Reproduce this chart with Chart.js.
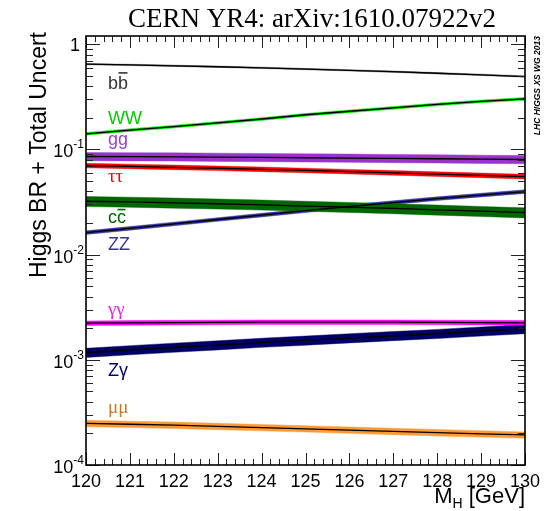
<!DOCTYPE html>
<html><head><meta charset="utf-8">
<script src="https://cdn.jsdelivr.net/npm/chart.js@4/dist/chart.umd.min.js"></script>
<style>html,body{margin:0;padding:0;background:#fff;}canvas{display:block;}</style>
</head><body>
<canvas id="c" width="545" height="511"></canvas>
<script>
// ---- data ----
const masses = [120,121,122,123,124,125,126,127,128,129,130];
const brBB  = [0.648,0.637,0.625,0.612,0.598,0.582,0.566,0.549,0.531,0.513,0.494];
const brWW  = [0.141,0.153,0.165,0.179,0.195,0.214,0.231,0.249,0.268,0.287,0.303];
const brGG  = [0.0858,0.0856,0.0852,0.0847,0.0841,0.0835,0.0829,0.0823,0.0817,0.0810,0.0803];
const brTT  = [0.0704,0.0691,0.0677,0.0663,0.0648,0.0632,0.0616,0.0600,0.0584,0.0568,0.0553];
const brCC  = [0.0322,0.0317,0.0311,0.0305,0.0298,0.0290,0.0283,0.0275,0.0267,0.0259,0.0251];
const brZZ  = [0.0162,0.0178,0.0196,0.0216,0.0238,0.0262,0.0287,0.0313,0.0341,0.0369,0.0398];
const brAA  = [0.00223,0.00225,0.00226,0.00227,0.00228,0.00228,0.00228,0.00228,0.00227,0.00226,0.00225];
const brZA  = [0.00117,0.00124,0.00131,0.00138,0.00146,0.00153,0.00161,0.00169,0.00177,0.00187,0.00197];
const brMM  = [0.000249,0.000244,0.000239,0.000233,0.000227,0.000221,0.000215,0.000209,0.000203,0.000198,0.000193];
const channelNames = ['bb','WW','gg','\u03c4\u03c4','cc','ZZ','\u03b3\u03b3','Z\u03b3','\u03bc\u03bc'];
const channelBar = [true,false,false,false,true,false,false,false,false]; // overline on 2nd letter (anti-quark)
const relUnc = [0.015,0.03,0.09,0.05,0.11,0.04,0.05,0.10,0.07];
const labelMass = 120.5;
const labelBR = [0.3727,0.173,0.1092,0.0496,0.0202,0.01116,0.002683,0.000704,0.0003126];
const xTickLabels = ['120','121','122','123','124','125','126','127','128','129','130'];
const yDecades = [1,0.1,0.01,0.001,0.0001];
const yTickLabels = [['1',''],['10','-1'],['10','-2'],['10','-3'],['10','-4']];
const titleText = 'CERN YR4: arXiv:1610.07922v2';
const yTitle = 'Higgs BR + Total Uncert';
const sideText = 'LHC HIGGS XS WG 2013';

// ---- styles ----
const allBR = [brBB,brWW,brGG,brTT,brCC,brZZ,brAA,brZA,brMM];
const bandColors = ['#666666','#00dd00','#9933cc','#ff0000','#006600','#333399','#ff00ff','#000066','#ff9933'];
const labelColors = ['#333333','#00cc00','#9944cc','#ff0000','#006600','#333399','#ee22ee','#000066','#cc7722'];
const serifLabel = [false,false,false,true,false,false,true,false,true];

const datasets = [];
allBR.forEach((br, c) => {
  const u = relUnc[c];
  datasets.push({data: masses.map((m,i)=>({x:m,y:br[i]*(1+u)})), fill:'+1', backgroundColor:bandColors[c],
    borderColor:bandColors[c]+'88', borderWidth:0.8, pointRadius:0, tension:0, order:2});
  datasets.push({data: masses.map((m,i)=>({x:m,y:br[i]*(1-u)})), fill:false,
    borderColor:bandColors[c]+'88', borderWidth:0.8, pointRadius:0, tension:0, order:2});
  datasets.push({data: masses.map((m,i)=>({x:m,y:br[i]})), fill:false, borderColor:'#000', borderWidth:1.3,
    pointRadius:0, tension:0, order:1});
});

const L=86, R=525, T=36, B=465;

const decor = {
  id:'decor',
  afterDraw(chart){
    const ctx = chart.ctx, xs = chart.scales.x, ys = chart.scales.y;
    ctx.save();
    // channel labels
    channelNames.forEach((n,c)=>{
      ctx.fillStyle = labelColors[c];
      ctx.font = serifLabel[c] ? '19px "Liberation Serif"' : '18px "Liberation Sans"';
      ctx.textAlign='left'; ctx.textBaseline='alphabetic';
      const lx = xs.getPixelForValue(labelMass), ly = ys.getPixelForValue(labelBR[c]);
      ctx.fillText(n, lx, ly);
      if (channelBar[c]) {
        const w1 = ctx.measureText(n[0]).width, w2 = ctx.measureText(n).width;
        const h = n[0]==='b' ? 16.5 : 13;
        ctx.fillRect(lx + w1 + 0.5, ly - h - 0.8, w2 - w1 - 1, 1.6);
      }
    });
    // ticks
    ctx.strokeStyle='#222'; ctx.lineWidth=1;
    const xa = chart.chartArea;
    ctx.beginPath();
    for (let v=120; v<=130.001; v+=0.2){
      const px = Math.round(xs.getPixelForValue(v))+0.5;
      const major = Math.abs(v-Math.round(v))<1e-6;
      const len = major?12:6;
      ctx.moveTo(px, xa.bottom); ctx.lineTo(px, xa.bottom-len);
      ctx.moveTo(px, xa.top); ctx.lineTo(px, xa.top+len);
    }
    yDecades.forEach(d=>{
      for (let k=1;k<=9;k++){
        const v=d*k; if (v>ys.max || v<ys.min) continue;
        const py = Math.round(ys.getPixelForValue(v))+0.5;
        const len = k===1?14:7;
        ctx.moveTo(xa.left,py); ctx.lineTo(xa.left+len,py);
        ctx.moveTo(xa.right,py); ctx.lineTo(xa.right-len,py);
      }
    });
    ctx.stroke();
    // frame
    ctx.lineWidth=1.6; ctx.strokeStyle='#000';
    ctx.strokeRect(xa.left, xa.top, xa.right-xa.left, xa.bottom-xa.top);
    // x tick labels
    ctx.fillStyle='#000'; ctx.font='18px "Liberation Sans"'; ctx.textAlign='center'; ctx.textBaseline='alphabetic';
    xTickLabels.forEach((t,i)=>{ ctx.fillText(t, xs.getPixelForValue(masses[i]), xa.bottom+22); });
    // y tick labels
    yDecades.forEach((d,i)=>{
      const py = ys.getPixelForValue(d);
      const [base, ex] = yTickLabels[i];
      ctx.textAlign='right';
      if (!ex){ ctx.font='18px "Liberation Sans"'; ctx.fillText(base, 80, py+7); return; }
      ctx.font='12px "Liberation Sans"'; const ew = ctx.measureText(ex).width;
      ctx.fillText(ex, 84, py-1);
      ctx.font='18px "Liberation Sans"'; ctx.fillText(base, 84-ew, py+8);
    });
    // title
    ctx.font='27px "Liberation Serif"'; ctx.textAlign='center';
    ctx.fillText(titleText, 312, 27);
    // x title
    ctx.font='22px "Liberation Sans"'; ctx.textAlign='left';
    const w1 = ctx.measureText('M').width, w3 = ctx.measureText(' [GeV]').width;
    ctx.font='14px "Liberation Sans"'; const w2 = ctx.measureText('H').width;
    let x0 = R - (w1+w2+w3);
    ctx.font='22px "Liberation Sans"'; ctx.fillText('M', x0, 503);
    ctx.font='14px "Liberation Sans"'; ctx.fillText('H', x0+w1, 508);
    ctx.font='22px "Liberation Sans"'; ctx.fillText(' [GeV]', x0+w1+w2, 503);
    // y title
    ctx.save(); ctx.translate(46, 32); ctx.rotate(-Math.PI/2);
    ctx.font='23px "Liberation Sans"'; ctx.textAlign='right'; ctx.textBaseline='alphabetic';
    ctx.fillText(yTitle, 0, 0); ctx.restore();
    // side text
    ctx.save(); ctx.translate(540, 36); ctx.rotate(-Math.PI/2);
    ctx.font='italic bold 8.5px "Liberation Sans"'; ctx.textAlign='right';
    ctx.fillText(sideText, 0, 0); ctx.restore();
    ctx.restore();
  }
};

new Chart(document.getElementById('c'), {
  type:'line',
  data:{datasets},
  options:{
    responsive:false, animation:false, devicePixelRatio:1,
    layout:{padding:{left:L, right:545-R, top:T, bottom:511-B}},
    plugins:{legend:{display:false}, tooltip:{enabled:false}, filler:{propagate:false}},
    scales:{
      x:{type:'linear', min:120, max:130, display:false},
      y:{type:'logarithmic', min:1e-4, max:1.2, display:false}
    }
  },
  plugins:[decor]
});
</script>
</body></html>
